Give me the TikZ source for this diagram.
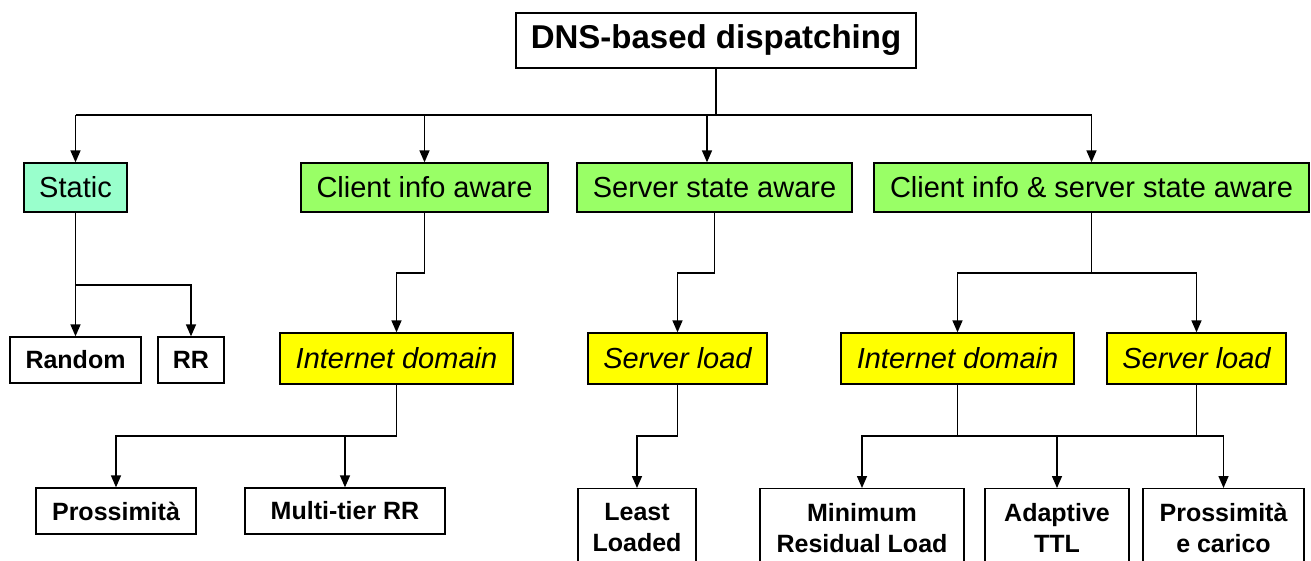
\documentclass[tikz,border=0pt]{standalone}
\usepackage{fontspec}
\setmainfont{Liberation Sans}
\usetikzlibrary{arrows.meta}
\definecolor{aqua}{HTML}{99FFCC}
\definecolor{lgreen}{HTML}{99FF66}
\definecolor{yel}{HTML}{FFFF00}
\begin{document}
\begin{tikzpicture}[x=1pt,y=-1pt,
  box/.style={draw=black,line width=1.3pt,inner sep=0pt,align=center},
  lvltwo/.style={box,font=\fontsize{29}{35}\selectfont,minimum height=49pt},
  lvlthree/.style={box,font=\fontsize{29}{35}\selectfont\itshape,fill=yel,minimum height=51pt},
  leaf/.style={box,font=\fontsize{25}{31}\selectfont\bfseries,minimum height=46pt},
  tall/.style={box,font=\fontsize{25}{31}\selectfont\bfseries,anchor=north,inner ysep=15pt},
  conn/.style={line width=1.5pt},
  arr/.style={line width=1.5pt,-{Triangle[length=12pt,width=10pt]}}
]
\useasboundingbox (0,0) rectangle (1311,560);
\clip (0,0) rectangle (1311,560);
% top
\node[box,font=\fontsize{33}{40}\selectfont\bfseries,minimum width=400pt,minimum height=55pt] (dns) at (716,40.5) {DNS-based dispatching};
% level 2
\node[lvltwo,fill=aqua,minimum width=103pt] (static) at (75.5,187.5) {Static};
\node[lvltwo,fill=lgreen,minimum width=247pt] (cia) at (424.5,187.5) {Client info aware};
\node[lvltwo,fill=lgreen,minimum width=275pt] (ssa) at (714.5,187.5) {Server state aware};
\node[lvltwo,fill=lgreen,minimum width=435pt] (ciss) at (1091.5,187.5) {Client info \& server state aware};
% level 3
\node[leaf,minimum width=131pt] (random) at (75.5,360) {Random};
\node[leaf,minimum width=66pt] (rr) at (191,360) {RR};
\node[lvlthree,minimum width=233pt] (id1) at (396.5,358.5) {Internet domain};
\node[lvlthree,minimum width=179pt] (sl1) at (677.5,358.5) {Server load};
\node[lvlthree,minimum width=233pt] (id2) at (957.5,358.5) {Internet domain};
\node[lvlthree,minimum width=179pt] (sl2) at (1196.5,358.5) {Server load};
% level 4
\node[leaf,minimum width=160pt] (pross) at (116,511) {Prossimità};
\node[leaf,minimum width=200pt] (mtrr) at (345,511) {Multi-tier RR};
\node[tall,minimum width=118pt] (least) at (637,488) {Least\\Loaded};
\node[tall,minimum width=204pt] (minres) at (862,488) {Minimum\\Residual Load};
\node[tall,minimum width=144pt] (adapt) at (1057,488) {Adaptive\\TTL};
\node[tall,minimum width=161pt] (pec) at (1223.5,488) {Prossimità\\e carico};
% bus coordinates
\coordinate (b0) at (716,115);
\coordinate (bs) at (75.5,285);
\coordinate (b2) at (0,273);
\coordinate (b3) at (0,436);
% connectors from top
\draw[conn] (dns.south) -- (b0);
\draw[conn] (static.north|-b0) -- (ciss.north|-b0);
\draw[arr] (static.north|-b0) -- (static.north);
\draw[arr] (cia.north|-b0) -- (cia.north);
\draw[arr] ([xshift=-7.5pt]ssa.north|-b0) -- ([xshift=-7.5pt]ssa.north);
\draw[arr] (ciss.north|-b0) -- (ciss.north);
% static
\draw[conn] (static.south) -- (bs);
\draw[arr] (bs) -- (random.north);
\draw[arr] (bs) -| (rr.north);
% client info aware
\draw[arr] (cia.south) -- (cia.south|-b2) -| (id1.north);
% server state aware
\draw[arr] (ssa.south) -- (ssa.south|-b2) -| (sl1.north);
% client info & server state
\draw[conn] (ciss.south) -- (ciss.south|-b2);
\draw[arr] (ciss.south|-b2) -| (id2.north);
\draw[arr] (ciss.south|-b2) -| (sl2.north);
% internet domain 1
\draw[conn] (id1.south) -- (id1.south|-b3);
\draw[arr] (id1.south|-b3) -| (pross.north);
\draw[arr] (mtrr.north|-b3) -- (mtrr.north);
% server load 1
\draw[arr] (sl1.south) -- (sl1.south|-b3) -| (least.north);
% internet domain 2 and server load 2
\draw[arr] (id2.south) -- (id2.south|-b3) -| (minres.north);
\draw[conn] (sl2.south) -- (sl2.south|-b3);
\draw[conn] (minres.north|-b3) -- (pec.north|-b3);
\draw[arr] (adapt.north|-b3) -- (adapt.north);
\draw[arr] (pec.north|-b3) -- (pec.north);
\end{tikzpicture}
\end{document}
